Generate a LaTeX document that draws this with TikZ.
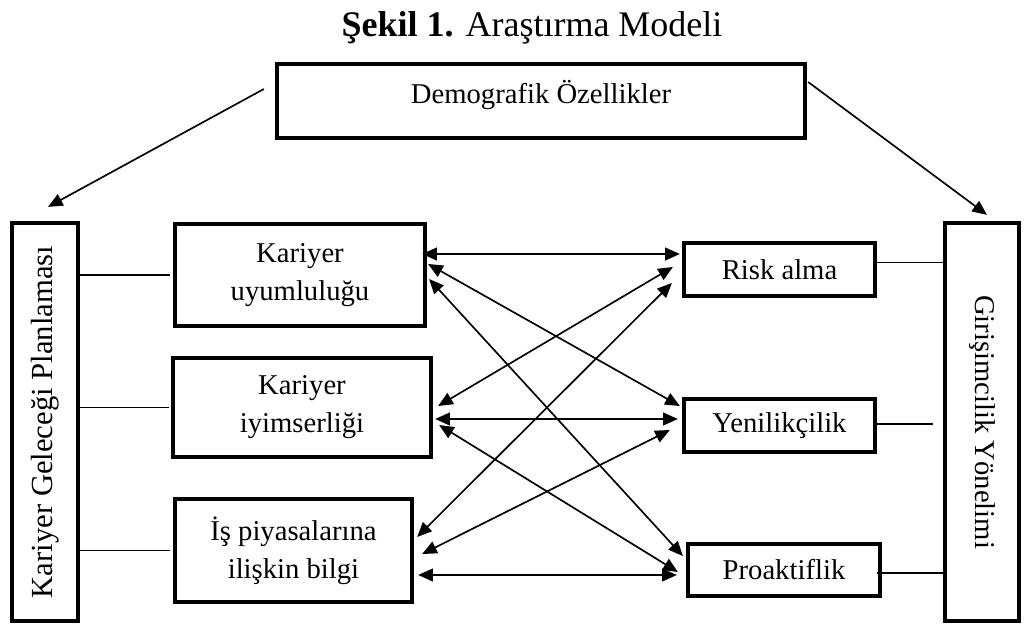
\documentclass[tikz,border=0pt]{standalone}
\usepackage{fontspec}
\usepackage{graphicx}
\setmainfont{Liberation Serif}
\usetikzlibrary{arrows.meta,calc}
\begin{document}
\begin{tikzpicture}[x=0.75pt,y=-0.75pt,
  box/.style={draw, line width=3.2pt, rectangle, inner sep=0pt, align=center,
    font=\fontsize{21.5}{28.5}\selectfont},
  link/.style={line width=1.25pt},
  dbl/.style={line width=1.25pt, {Triangle[length=11pt,width=9.5pt]}-{Triangle[length=11pt,width=9.5pt]}},
  arr/.style={line width=1.25pt, -{Triangle[length=11pt,width=9.5pt]}},
]
\useasboundingbox (0,0) rectangle (1027,624);

\node[anchor=base, font=\fontsize{27}{32}\selectfont] (title) at (532,37)
  {\textbf{Şekil 1.} Araştırma Modeli};

\node[box, minimum width=396pt, minimum height=55.5pt, text height=15pt, text depth=11pt] (demo) at (541,101) {Demografik Özellikler};

\node[box, minimum width=49.5pt, minimum height=298.5pt] (LB) at (45,422)
  {\rotatebox{90}{\fontsize{23}{28}\selectfont Kariyer Geleceği Planlaması}};
\node[box, minimum width=55.5pt, minimum height=298.5pt] (RB) at (982,422)
  {\rotatebox{-90}{Girişimcilik Yönelimi}};

\node[box, minimum width=187.5pt, minimum height=76.5pt] (L1) at (300,275) {Kariyer\\uyumluluğu};
\node[box, minimum width=193.5pt, minimum height=74.25pt] (L2) at (302,407.5) {Kariyer\\iyimserliği};
\node[box, minimum width=177.75pt, minimum height=77.25pt] (L3) at (293.5,550.5) {İş piyasalarına\\ilişkin bilgi};

\node[box, minimum width=143.25pt, minimum height=39.75pt] (R1) at (779.5,269.5) {Risk alma};
\node[box, minimum width=143.25pt, minimum height=39.75pt] (R2) at (779.5,425.5) {Yenilikçilik};
\node[box, minimum width=144pt, minimum height=39pt] (R3) at (784,570) {Proaktiflik};

% arrows from demographics
\draw[arr] ($(demo.west)+(-11,-12)$) -- ($(LB.north)+(3,-14)$);
\draw[arr] ($(demo.east)+(1,-19)$) -- ($(RB.north)+(5,-6)$);

% side lines
\draw[link] (LB.east |- L1.west) -- ($(L1.west)+(-3,0)$);
\draw[link] (LB.east |- L2.west) -- ($(L2.west)+(-2,0)$);
\draw[link] (LB.east |- L3.west) -- ($(L3.west)+(-3,0)$);
\draw[link] ($(R1.east)+(0,-7)$) coordinate (r1o) -- (r1o -| RB.west);
\draw[link] ($(R2.east)+(0,-1.5)$) coordinate (r2o) -- ($(r2o -| RB.west)+(-10,0)$);
\draw[link] ($(R3.east)+(-5,3)$) coordinate (r3o) -- (r3o -| RB.west);

% cross connections
\draw[dbl] ($(L1.east)+(-5,-21)$) -- ($(R1.west)+(-2,-15.5)$);
\draw[dbl] ($(L1.east)+(1,-11)$) -- ($(R2.west)+(-2,-19.5)$);
\draw[dbl] ($(L1.east)+(2,4)$) -- ($(R3.west)+(-3,-14)$);
\draw[dbl] ($(L2.east)+(5,-1.5)$) -- ($(R1.west)+(-9,-2.5)$);
\draw[dbl] ($(L2.east)+(2,11.5)$) -- ($(R2.west)+(-4,-6.5)$);
\draw[dbl] ($(L2.east)+(6,17.5)$) -- ($(R3.west)+(-8,2)$);
\draw[dbl] ($(L3.east)+(3,-13.5)$) -- ($(R1.west)+(-10,13.5)$);
\draw[dbl] ($(L3.east)+(8,3.5)$) -- ($(R2.west)+(-12,4.5)$);
\draw[dbl] ($(L3.east)+(4,24.5)$) -- ($(R3.west)+(-9,5)$);
\end{tikzpicture}
\end{document}
